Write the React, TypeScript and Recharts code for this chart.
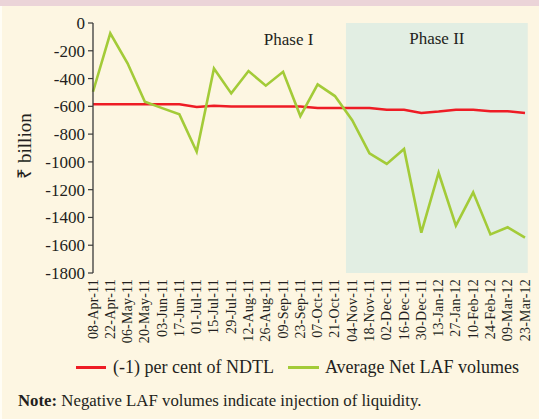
import React from 'react';
import { LineChart, Line, XAxis, YAxis, ReferenceArea, Legend } from 'recharts';

const dates = [
  '08-Apr-11', '22-Apr-11', '06-May-11', '20-May-11', '03-Jun-11', '17-Jun-11',
  '01-Jul-11', '15-Jul-11', '29-Jul-11', '12-Aug-11', '26-Aug-11', '09-Sep-11',
  '23-Sep-11', '07-Oct-11', '21-Oct-11', '04-Nov-11', '18-Nov-11', '02-Dec-11',
  '16-Dec-11', '30-Dec-11', '13-Jan-12', '27-Jan-12', '10-Feb-12', '24-Feb-12',
  '09-Mar-12', '23-Mar-12',
];

const ndtlLimit = [
  -585, -585, -585, -585, -585, -585, -605, -595, -602, -602, -602, -602, -602,
  -612, -612, -612, -612, -625, -625, -648, -638, -625, -625, -635, -635, -648,
];

const netLaf = [
  -495, -74, -290, -567, -613, -658, -927, -327, -507, -346, -451, -351, -670,
  -442, -526, -700, -938, -1015, -907, -1510, -1078, -1459, -1219, -1522, -1471, -1546,
];

const yTicks = [0, -200, -400, -600, -800, -1000, -1200, -1400, -1600, -1800];

const phase1Label = 'Phase I';
const phase2Label = 'Phase II';
const seriesNames = ['(-1) per cent of NDTL', 'Average Net LAF volumes'];

const data = dates.map((d, i) => ({ i, date: d, ndtl: ndtlLimit[i], laf: netLaf[i] }));
const idxTicks = dates.map((_, i) => i);

const FONT = '"Liberation Serif", "Times New Roman", Times, serif';
const TEXT = '#231F20';
const RED = '#EE1C25';
const GREEN = '#A3CB38';
const AXIS = '#3A3A3A';

const XTick = (props: any) => {
  const { x, y, payload } = props;
  return (
    <text
      x={x}
      y={y}
      transform={`rotate(-90 ${x} ${y})`}
      textAnchor="end"
      dominantBaseline="central"
      fontFamily={FONT}
      fontSize={14}
      letterSpacing={0.2}
      fill={TEXT}
    >
      {dates[payload.value]}
    </text>
  );
};

const YLabel = () => (
  <text
    x={24}
    y={146}
    transform="rotate(-90 24 146)"
    textAnchor="middle"
    dominantBaseline="central"
    fontFamily={FONT}
    fontSize={19}
    fill={TEXT}
  >
    ₹ billion
  </text>
);

const LegendContent = () => (
  <div
    style={{
      display: 'flex',
      alignItems: 'center',
      height: 25,
      paddingLeft: 76,
      fontFamily: FONT,
      fontSize: 18,
      color: TEXT,
      whiteSpace: 'nowrap',
    }}
  >
    <span style={{ display: 'inline-block', width: 30, height: 3, background: RED, marginRight: 7 }} />
    <span style={{ marginRight: 14 }}>{seriesNames[0]}</span>
    <span style={{ display: 'inline-block', width: 31, height: 3, background: GREEN, marginRight: 6 }} />
    <span>{seriesNames[1]}</span>
  </div>
);

export default function App() {
  return (
    <div
      style={{
        position: 'absolute',
        top: 0,
        left: 0,
        width: 539,
        height: 419,
        background: '#FDF6E2',
        overflow: 'hidden',
      }}
    >
      <div style={{ position: 'absolute', top: 0, left: 0, width: 539, height: 6, background: '#EBD4D8' }} />
      <div style={{ position: 'absolute', top: 6, left: 0, width: 2, height: 413, background: '#FFFDF5' }} />
      <div style={{ position: 'absolute', top: 0, left: 0 }}>
        <LineChart
          width={539}
          height={419}
          data={data}
          margin={{ top: 23, right: 14, left: 0, bottom: 39 }}
        >
          <XAxis
            xAxisId="b"
            dataKey="i"
            type="number"
            domain={[0, 25]}
            ticks={idxTicks}
            interval={0}
            orientation="bottom"
            height={82}
            axisLine={false}
            tickLine={false}
            tickSize={6}
            tickMargin={0}
            tick={<XTick />}
          />
          <XAxis
            xAxisId="t"
            dataKey="i"
            type="number"
            domain={[0, 25]}
            ticks={idxTicks}
            interval={0}
            orientation="top"
            height={0}
            mirror
            tick={false}
            tickSize={4}
            axisLine={{ stroke: AXIS, strokeWidth: 1.3 }}
            tickLine={{ stroke: AXIS, strokeWidth: 1.2 }}
          />
          <YAxis
            domain={[-1800, 0]}
            ticks={yTicks}
            interval={0}
            width={93}
            tickSize={5}
            tickMargin={3}
            axisLine={{ stroke: AXIS, strokeWidth: 1.3 }}
            tickLine={{ stroke: AXIS, strokeWidth: 1.2 }}
            tick={{ fontFamily: FONT, fontSize: 17, fill: TEXT }}
            label={<YLabel />}
          />
          <ReferenceArea
            xAxisId="b"
            x1={14.64}
            x2={25.16}
            y1={-1800}
            y2={0}
            ifOverflow="visible"
            fill="#C7E5E3"
            fillOpacity={0.5}
            stroke="none"
            label={{
              value: phase2Label,
              position: 'insideTop',
              offset: 9,
              fill: TEXT,
              fontSize: 17,
              fontFamily: FONT,
            }}
          />
          <ReferenceArea
            xAxisId="b"
            x1={8}
            x2={14.64}
            y1={-1800}
            y2={0}
            fill="none"
            fillOpacity={0}
            stroke="none"
            label={{
              value: phase1Label,
              position: 'insideTop',
              offset: 10,
              fill: TEXT,
              fontSize: 17,
              fontFamily: FONT,
            }}
          />
          <Line
            xAxisId="b"
            type="linear"
            dataKey="ndtl"
            name={seriesNames[0]}
            stroke={RED}
            strokeWidth={2.5}
            dot={false}
            activeDot={false}
            isAnimationActive={false}
          />
          <Line
            xAxisId="b"
            type="linear"
            dataKey="laf"
            name={seriesNames[1]}
            stroke={GREEN}
            strokeWidth={2.6}
            dot={false}
            activeDot={false}
            isAnimationActive={false}
          />
          <Legend
            verticalAlign="bottom"
            content={<LegendContent />}
            wrapperStyle={{ left: 0, bottom: 39, width: 539, height: 25 }}
          />
        </LineChart>
      </div>
      <div
        style={{
          position: 'absolute',
          left: 18,
          top: 391,
          fontFamily: FONT,
          fontSize: 16.8,
          lineHeight: '20px',
          color: TEXT,
          whiteSpace: 'nowrap',
        }}
      >
        <b>Note:</b> Negative LAF volumes indicate injection of liquidity.
      </div>
    </div>
  );
}
